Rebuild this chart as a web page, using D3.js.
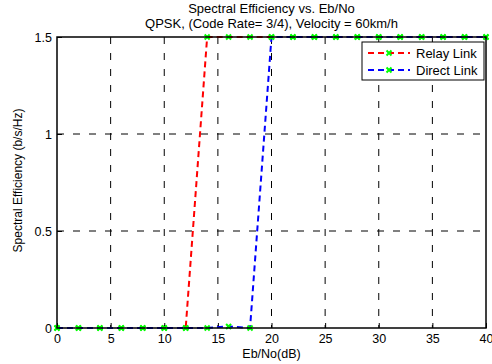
<!DOCTYPE html>
<html>
<head>
<meta charset="utf-8">
<script src="https://cdn.jsdelivr.net/npm/d3@7"></script>
<style>
  body { margin: 0; background: #fff; }
  svg text { font-family: "Liberation Sans", Arial, sans-serif; fill: #000; }
</style>
</head>
<body>
<div id="chart"></div>
<script>
const ebno = [0, 2, 4, 6, 8, 10, 12, 14, 16, 18, 20, 22, 24, 26, 28, 30, 32, 34, 36, 38, 40];
const relayLink = [0, 0, 0, 0, 0, 0, 0, 1.5, 1.5, 1.5, 1.5, 1.5, 1.5, 1.5, 1.5, 1.5, 1.5, 1.5, 1.5, 1.5, 1.5];
const directLink = [0, 0, 0, 0, 0, 0, 0, 0, 0.008, 0, 1.5, 1.5, 1.5, 1.5, 1.5, 1.5, 1.5, 1.5, 1.5, 1.5, 1.5];
const xTicks = [0, 5, 10, 15, 20, 25, 30, 35, 40];
const yTicks = [0, 0.5, 1, 1.5];
const titleLines = ["Spectral Efficiency vs. Eb/No", "QPSK, (Code Rate= 3/4), Velocity = 60km/h"];

const W = 492, H = 364;
const margin = {top: 37, right: 6, bottom: 36, left: 57};
const width = W - margin.left - margin.right;
const height = H - margin.top - margin.bottom;

const xScale = d3.scaleLinear().domain([0, 40]).range([0, width]);
const yScale = d3.scaleLinear().domain([0, 1.5]).range([height, 0]);

const svgRoot = d3.select("#chart").append("svg")
    .attr("width", W)
    .attr("height", H);

const svg = svgRoot.append("g")
    .attr("transform", `translate(${margin.left},${margin.top})`);

// grid
svg.selectAll(".vgrid")
    .data(xTicks.slice(1, -1))
    .enter().append("line")
    .attr("class", "vgrid")
    .attr("x1", d => xScale(d)).attr("x2", d => xScale(d))
    .attr("y1", 0).attr("y2", height)
    .attr("stroke", "#000")
    .attr("stroke-width", 1)
    .attr("stroke-dasharray", "7,9");

svg.selectAll(".hgrid")
    .data(yTicks.slice(1, -1))
    .enter().append("line")
    .attr("class", "hgrid")
    .attr("x1", 0).attr("x2", width)
    .attr("y1", d => yScale(d)).attr("y2", d => yScale(d))
    .attr("stroke", "#000")
    .attr("stroke-width", 1)
    .attr("stroke-dasharray", "7,9");

// axes with inward ticks
const xAxis = svg.append("g")
    .attr("transform", `translate(0,${height})`)
    .call(d3.axisBottom(xScale).tickValues(xTicks).tickSizeInner(-5).tickSizeOuter(0).tickPadding(6));
const yAxis = svg.append("g")
    .call(d3.axisLeft(yScale).tickValues(yTicks).tickSizeInner(-5).tickSizeOuter(0).tickPadding(5).tickFormat(d3.format("")));
[xAxis, yAxis].forEach(a => {
    a.select(".domain").remove();
    a.selectAll("line").attr("stroke", "#000");
    a.selectAll("text").attr("font-size", "12.5px").attr("font-family", "Liberation Sans, Arial, sans-serif");
});

// lines
const line = d3.line().x((d, i) => xScale(ebno[i])).y(d => yScale(d));
const series = [
    {name: "Relay Link", values: relayLink, color: "#ff0000"},
    {name: "Direct Link", values: directLink, color: "#0000ff"}
];

series.forEach(s => {
    svg.append("path")
        .datum(s.values)
        .attr("fill", "none")
        .attr("stroke", s.color)
        .attr("stroke-width", 2)
        .attr("stroke-dasharray", "6,4")
        .attr("d", line);
});

function drawX(g, cx, cy) {
    const r = 2.5;
    g.append("path")
        .attr("d", `M${cx - r},${cy - r}L${cx + r},${cy + r}M${cx - r},${cy + r}L${cx + r},${cy - r}`)
        .attr("stroke", "#00ff00")
        .attr("stroke-width", 2);
}

series.forEach(s => {
    s.values.forEach((v, i) => drawX(svg, xScale(ebno[i]), yScale(v)));
});

// box
svg.append("rect")
    .attr("x", 0).attr("y", 0)
    .attr("width", width).attr("height", height)
    .attr("fill", "none")
    .attr("stroke", "#000")
    .attr("stroke-width", 1.5);

// legend
const legend = svg.append("g").attr("transform", `translate(${width - 124},5)`);
legend.append("rect")
    .attr("width", 122).attr("height", 38)
    .attr("fill", "#fff")
    .attr("stroke", "#000")
    .attr("stroke-width", 1);
series.forEach((s, i) => {
    const y = 11 + i * 17;
    legend.append("line")
        .attr("x1", 6).attr("x2", 48)
        .attr("y1", y).attr("y2", y)
        .attr("stroke", s.color)
        .attr("stroke-width", 2)
        .attr("stroke-dasharray", "6,4");
    drawX(legend, 27, y);
    legend.append("text")
        .attr("x", 54).attr("y", y)
        .attr("dy", "0.35em")
        .attr("font-size", "13px")
        .text(s.name);
});

// titles
titleLines.forEach((t, i) => {
    svgRoot.append("text")
        .attr("x", margin.left + width / 2)
        .attr("y", 13 + i * 15)
        .attr("text-anchor", "middle")
        .attr("font-size", "13px")
        .text(t);
});

svgRoot.append("text")
    .attr("x", margin.left + width / 2)
    .attr("y", 358)
    .attr("text-anchor", "middle")
    .attr("font-size", "12.5px")
    .text("Eb/No(dB)");

svgRoot.append("text")
    .attr("transform", `translate(22,${margin.top + height / 2 - 2}) rotate(-90)`)
    .attr("text-anchor", "middle")
    .attr("font-size", "12px")
    .text("Spectral Efficiency (b/s/Hz)");
</script>
</body>
</html>
